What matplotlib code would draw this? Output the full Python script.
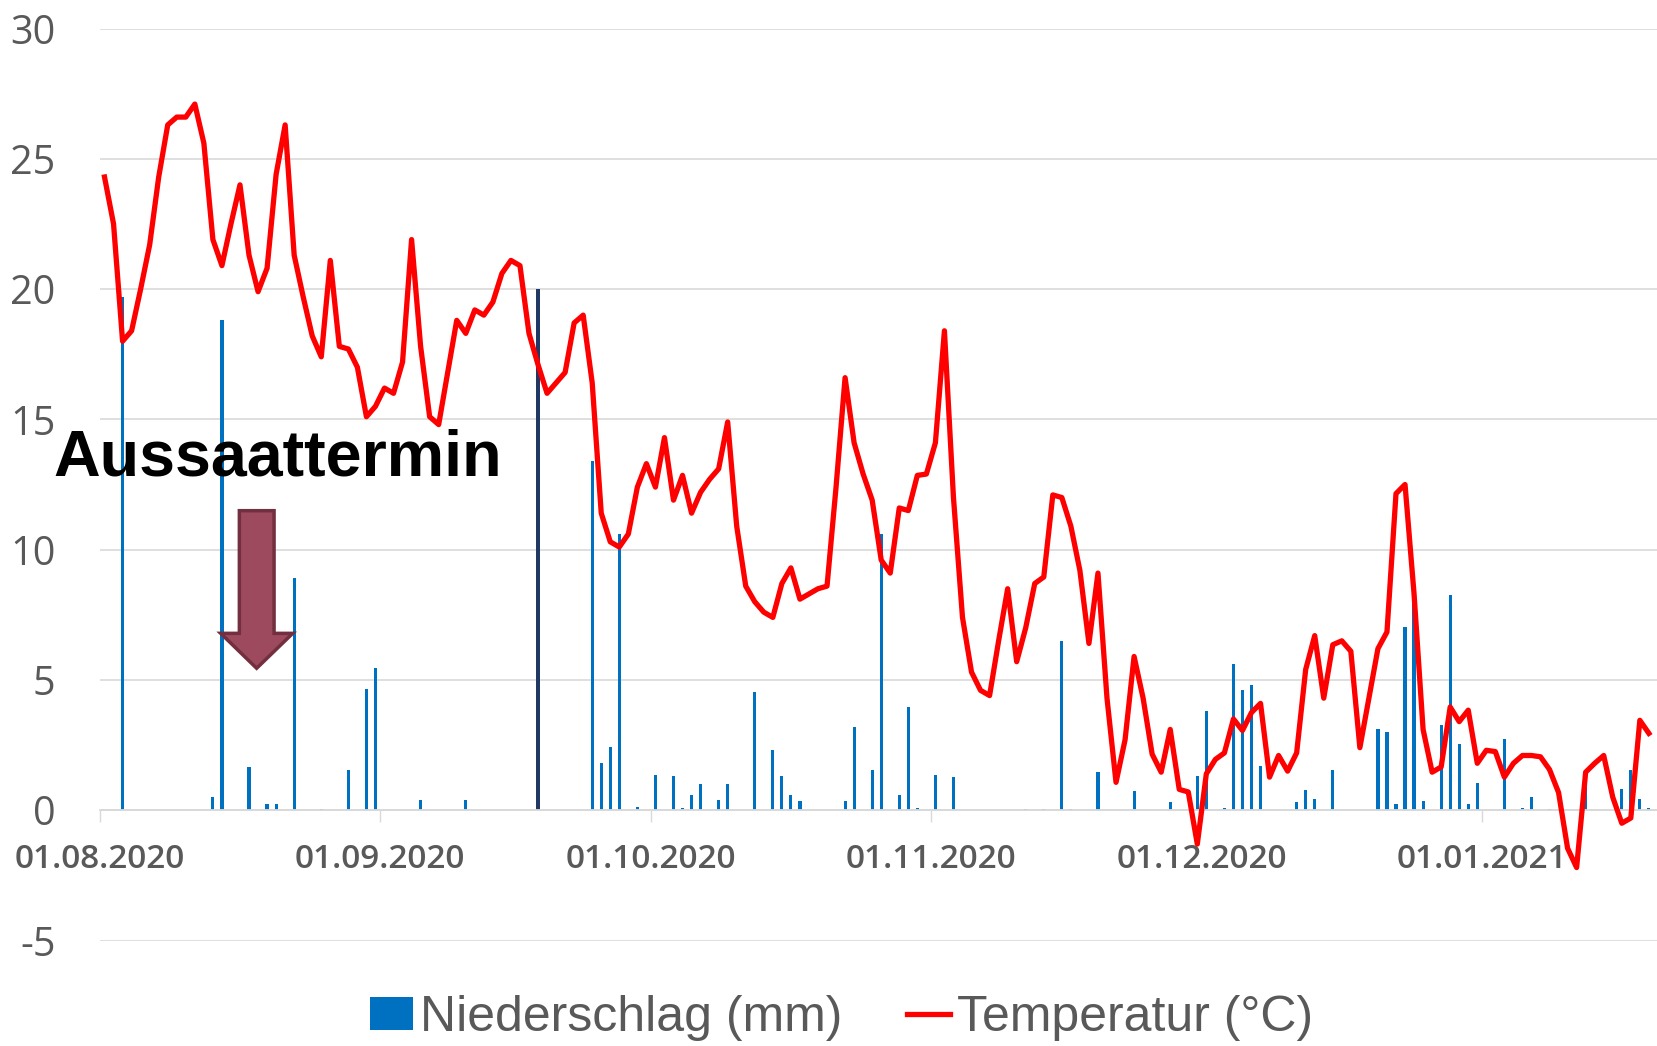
import matplotlib
matplotlib.use("Agg")
import matplotlib.pyplot as plt
import matplotlib.dates as mdates
from matplotlib.patches import Polygon
import pandas as pd

# Tagesmittel Temperatur ab 01.08.2020
start = "2020-08-01"
temperature = [
    24.3, 22.5, 18.0, 18.4, 20.0, 21.7, 24.3, 26.3, 26.6, 26.6,
    27.1, 25.6, 21.9, 20.9, 22.5, 24.0, 21.3, 19.9, 20.8, 24.4,
    26.3, 21.3, 19.7, 18.2, 17.4, 21.1, 17.8, 17.7, 17.0, 15.1,
    15.5, 16.2, 16.0, 17.2, 21.9, 17.8, 15.1, 14.8, 16.8, 18.8,
    18.3, 19.2, 19.0, 19.5, 20.6, 21.1, 20.9, 18.3, 17.1, 16.0,
    16.4, 16.8, 18.7, 19.0, 16.4, 11.4, 10.3, 10.1, 10.6, 12.4,
    13.3, 12.4, 14.3, 11.9, 12.85, 11.4, 12.2, 12.7, 13.1, 14.9,
    10.9, 8.6, 8.0, 7.6, 7.4, 8.7, 9.3, 8.1, 8.3, 8.5,
    8.6, 12.4, 16.6, 14.1, 12.9, 11.9, 9.6, 9.1, 11.6, 11.5,
    12.85, 12.9, 14.1, 18.4, 12.0, 7.4, 5.3, 4.6, 4.4, 6.5,
    8.5, 5.7, 7.0, 8.7, 8.95, 12.1, 12.0, 10.9, 9.2, 6.4,
    9.1, 4.3, 1.07, 2.7, 5.9, 4.3, 2.15, 1.46, 3.1, 0.8,
    0.7, -1.3, 1.4, 1.95, 2.2, 3.5, 3.06, 3.75, 4.1, 1.27,
    2.1, 1.5, 2.2, 5.4, 6.7, 4.3, 6.35, 6.5, 6.1, 2.4,
    4.3, 6.2, 6.84, 12.15, 12.5, 8.3, 3.1, 1.46, 1.66, 3.96,
    3.4, 3.84, 1.8, 2.3, 2.25, 1.27, 1.8, 2.1, 2.1, 2.05,
    1.56, 0.68, -1.46, -2.2, 1.46, 1.8, 2.1, 0.5, -0.5, -0.3,
    3.45, 2.95,
]

rain_dates = [
    "2020-08-03", "2020-08-13", "2020-08-14", "2020-08-17", "2020-08-19",
    "2020-08-20", "2020-08-22", "2020-08-25", "2020-08-28", "2020-08-30",
    "2020-08-31", "2020-09-05", "2020-09-10", "2020-09-24", "2020-09-25",
    "2020-09-26", "2020-09-27", "2020-09-29", "2020-10-01", "2020-10-03",
    "2020-10-04", "2020-10-05", "2020-10-06", "2020-10-08", "2020-10-09",
    "2020-10-12", "2020-10-14", "2020-10-15", "2020-10-16", "2020-10-17",
    "2020-10-22", "2020-10-23", "2020-10-25", "2020-10-26", "2020-10-28",
    "2020-10-29", "2020-10-30", "2020-11-01", "2020-11-03", "2020-11-11",
    "2020-11-13", "2020-11-15", "2020-11-16", "2020-11-19", "2020-11-23",
    "2020-11-27", "2020-11-30", "2020-12-01", "2020-12-03", "2020-12-04",
    "2020-12-05", "2020-12-06", "2020-12-07", "2020-12-11", "2020-12-12",
    "2020-12-13", "2020-12-15", "2020-12-20", "2020-12-21", "2020-12-22",
    "2020-12-23", "2020-12-24", "2020-12-25", "2020-12-27", "2020-12-28",
    "2020-12-29", "2020-12-30", "2020-12-31", "2021-01-03", "2021-01-05",
    "2021-01-06", "2021-01-08", "2021-01-12", "2021-01-16", "2021-01-17",
    "2021-01-18", "2021-01-19",
]
rain_mm = [
    19.7, 0.5, 18.8, 1.66, 0.23,
    0.23, 8.9, 0.04, 1.56, 4.65,
    5.47, 0.4, 0.4, 13.4, 1.8,
    2.44, 10.6, 0.14, 1.37, 1.33,
    0.1, 0.6, 1.0, 0.4, 1.0,
    4.55, 2.3, 1.33, 0.6, 0.35,
    0.35, 3.2, 1.56, 10.6, 0.6,
    3.95, 0.1, 1.37, 1.27, 0.04,
    0.04, 6.5, 0.04, 1.46, 0.72,
    0.3, 1.33, 3.8, 0.1, 5.6,
    4.6, 4.8, 1.7, 0.33, 0.78,
    0.43, 1.56, 3.1, 3.0, 0.23,
    7.03, 7.9, 0.35, 3.26, 8.26,
    2.54, 0.23, 1.03, 2.73, 0.1,
    0.5, 0.04, 1.4, 0.82, 1.56,
    0.43, 0.1,
]

# hervorgehobener Tag (dunkel markiert)
mark_date = "2020-09-18"
mark_mm = 20.0

y_ticks = [-5, 0, 5, 10, 15, 20, 25, 30]

plt.rcParams["font.family"] = ["Open Sans", "DejaVu Sans"]
plt.rcParams["axes.unicode_minus"] = False
GREY = "#595959"

days = pd.date_range(start, periods=len(temperature), freq="D")
x_temp = mdates.date2num(days) + 0.5
x_rain = mdates.date2num(pd.to_datetime(rain_dates)) + 0.5
x_mark = mdates.date2num(pd.to_datetime([mark_date])) + 0.5
x0 = mdates.date2num(pd.Timestamp(start))

W, H = 1657, 1046
fig = plt.figure(figsize=(W / 100, H / 100), dpi=100)
ax = fig.add_axes([100 / W, 1 - 940.5 / H, 1557 / W, 912 / H])

bars = ax.bar(x_rain, rain_mm, width=0.35, color="#0070C0", zorder=2)
ax.bar(x_mark, [mark_mm], width=0.35, color="#1F3864", zorder=2)
line, = ax.plot(x_temp, temperature, color="#FF0000", lw=3.8,
                solid_joinstyle="round", zorder=3)

ax.set_xlim(x0, x0 + 172.4)
ax.set_ylim(-5, 30)
ax.set_yticks(y_ticks)
ax.grid(axis="y", color="#D9D9D9", lw=1.2)
ax.set_axisbelow(True)

for s in ("left", "right", "top"):
    ax.spines[s].set_visible(False)
ax.spines["bottom"].set_position(("data", 0))
ax.spines["bottom"].set_color("#D9D9D9")
ax.spines["bottom"].set_linewidth(1.3)

ax.xaxis.set_major_locator(mdates.MonthLocator())
ax.xaxis.set_major_formatter(mdates.DateFormatter("%d.%m.%Y"))
ax.tick_params(axis="y", length=0, pad=32, labelsize=28.5, labelcolor=GREY)
ax.tick_params(axis="x", length=8.4, width=1, color="#D9D9D9", pad=15,
               labelsize=24, labelcolor=GREY)
plt.setp(ax.get_xticklabels(), fontweight="semibold")

# Pfeil Aussaattermin
arrow = Polygon(
    [(0.0895, 0.4713), (0.1118, 0.4713), (0.1118, 0.3368), (0.1238, 0.3368),
     (0.1006, 0.2985), (0.0775, 0.3368), (0.0895, 0.3368)],
    closed=True, transform=ax.transAxes, facecolor="#9E4A5E",
    edgecolor="#722F3F", lw=2.5, zorder=4)
ax.add_patch(arrow)
fig.text(53 / W, 0.545, "Aussaattermin", fontsize=46.5, fontweight="bold",
         family=["Liberation Sans", "DejaVu Sans"], color="black",
         ha="left", va="baseline")

fig.legend([bars, line], ["Niederschlag (mm)", "Temperatur (°C)"],
           loc="center", bbox_to_anchor=(0.508, 0.027), ncol=2, frameon=False,
           prop={"family": ["Liberation Sans", "DejaVu Sans"], "size": 36},
           handlelength=0.85, handleheight=0.65, handletextpad=0.15,
           columnspacing=1.3, labelcolor=GREY)

fig.savefig("out.png", dpi=100)
